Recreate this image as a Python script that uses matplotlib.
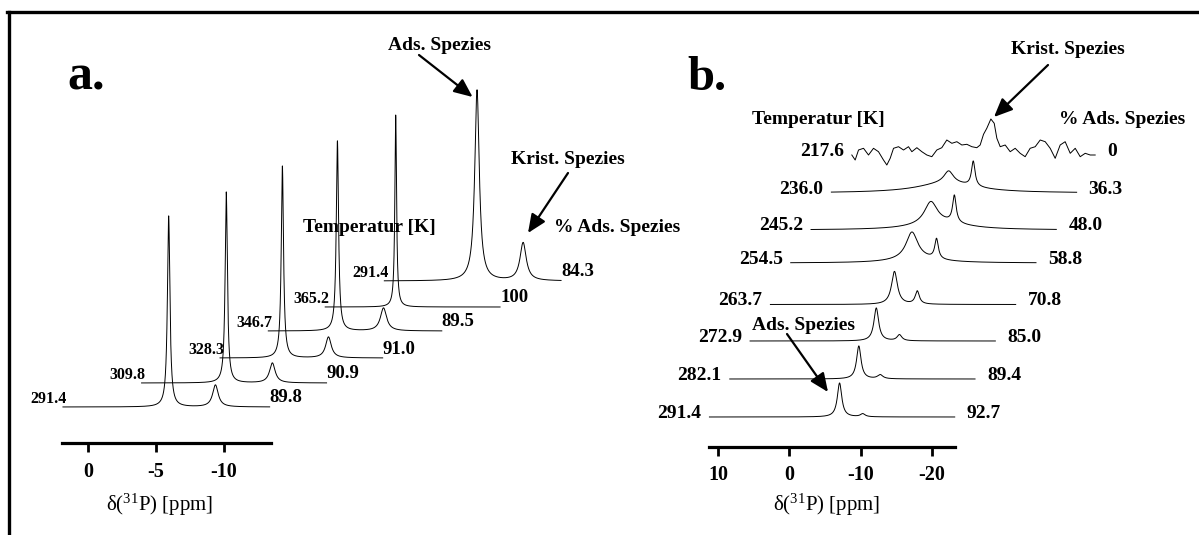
import numpy as np
import matplotlib
matplotlib.use("Agg")
import matplotlib.pyplot as plt

plt.rcParams['font.family'] = ['Liberation Serif', 'DejaVu Serif']
plt.rcParams['mathtext.fontset'] = 'custom'
plt.rcParams['mathtext.rm'] = 'Liberation Serif'
plt.rcParams['mathtext.it'] = 'Liberation Serif:italic'

W, H = 1199, 535

# ---------------- panel a: heating series ----------------
a_temps = ['291.4', '309.8', '328.3', '346.7', '365.2', '291.4']
a_percent = ['89.8', '90.9', '91.0', '89.5', '100', '84.3']
a_ads_shift = [-5.95, -6.0, -6.0, -6.0, -6.0, -6.0]
a_ads_height = [191, 191, 192, 190, 192, 191]
a_ads_width = [0.22, 0.20, 0.20, 0.20, 0.15, 0.40]
a_krist_shift = [-9.4, -9.4, -9.4, -9.4, -9.4, -9.4]
a_krist_height = [22, 20, 21, 23, 0, 38]
a_krist_width = [0.50, 0.50, 0.50, 0.55, 0.50, 0.55]
a_range_left = [1.85, 0.25, -1.4, -0.9, -0.8, 0.84]
a_range_right = [-13.4, -13.4, -13.4, -13.7, -13.7, -12.2]
a_ticks = [0, -5, -10]

# ---------------- panel b: cooling series ----------------
b_temps = ['291.4', '282.1', '272.9', '263.7', '254.5', '245.2', '236.0', '217.6']
b_percent = ['92.7', '89.4', '85.0', '70.8', '58.8', '48.0', '36.3', '0']
b_ads_shift = [-7.05, -6.9, -6.5, -6.2, -5.8, -5.6, -5.25]
b_ads_height = [34, 33, 33, 33, 27, 22, 12]
b_ads_width = [0.75, 0.75, 0.8, 1.0, 2.0, 2.2, 1.6]
b_krist_shift = [-10.3, -9.9, -9.75, -9.4, -9.25, -8.9, -8.7]
b_krist_height = [3, 4, 6, 13, 20, 27, 25]
b_krist_width = [0.8, 0.9, 0.8, 0.7, 0.6, 0.6, 0.6]
b_broad_shift = [0, 0, 0, 0, -6.5, -7.0, -5.0]
b_broad_height = [0, 0, 0, 0, 4, 7, 10]
b_broad_width = [8, 8, 8, 8, 8, 9, 10]
# lowest-temperature trace (217.6 K), read point by point
b_last_shift = [11.13, 10.66, 10.19, 9.49, 8.79, 8.09, 7.39, 6.69, 6.22, 5.75,
                5.28, 4.58, 3.88, 3.18, 2.71, 2.01, 1.31, 0.61, -0.09, -0.79,
                -1.49, -2.19, -2.9, -3.6, -4.3, -5.0, -5.7, -6.4, -6.87, -7.34,
                -7.8, -8.37, -8.84, -9.21, -9.68, -10.38, -11.08, -11.78, -12.48,
                -13.18, -13.88, -14.59, -15.29, -15.99, -16.69, -17.39, -18.09,
                -18.79, -19.5, -20.2, -20.9, -21.6, -22.3, -23.0]
b_last_height = [0, -5, 5, 6.7, 0, 6.7, 3.3, -5, -10, -3.3,
                 6.7, 8.3, 5, 8.3, 3.3, 7.3, 3.3, 0, -1.7, 5,
                 7.3, 15, 11.7, 13.3, 10, 10.7, 8.3, 7.3, 10, 20.7,
                 26.7, 36, 31.7, 16.7, 8.3, 10, 3.3, 6.7, 1.7,
                 -1.7, 6.7, 8.3, 15, 13.3, 6.7, -3.3, 10,
                 13.3, 1.7, 6.7, -1.7, 1.7, 0, 0]
b_range = (11.2, -23.2)
b_ticks = [10, 0, -10, -20]

# stacking layout (shift to the right in ppm, lift in pixels)
a_dx = [0, 4.2, 8.34, 12.4, 16.7, 22.7]
a_base = [36, 60, 85, 112, 136, 162]
b_dx = [0, 2.85, 5.7, 8.55, 11.4, 14.25, 17.1, 19.9]
b_base = [29.5, 67.5, 105.5, 142, 183.5, 216.5, 253.5, 291.5]


def lorentz(x, x0, h, w):
    return h / (1.0 + ((x - x0) / (w / 2.0)) ** 2)


def fxy(x, y):
    """top-left pixel position -> figure fraction"""
    return (x / W, 1 - y / H)


fig = plt.figure(figsize=(W / 100, H / 100), dpi=100)

# outer frame (top and left edges only)
fig.add_artist(plt.Line2D([7 / W, 1.0], [1 - 12.3 / H] * 2, color='black', lw=2.4,
                          transform=fig.transFigure))
fig.add_artist(plt.Line2D([8.7 / W] * 2, [1 - 12.3 / H, 0.0], color='black', lw=2.4,
                          transform=fig.transFigure))


def style_axis(ax, ticks):
    for s in ('left', 'right', 'top'):
        ax.spines[s].set_visible(False)
    ax.spines['bottom'].set_linewidth(2.3)
    ax.set_yticks([])
    ax.set_xticks(ticks)
    ax.set_xticklabels([str(t) for t in ticks], fontsize=14.5, fontweight='bold')
    ax.tick_params(axis='x', direction='out', length=6.5, width=2.0, pad=7)
    ax.patch.set_visible(False)


# ---------------- panel a ----------------
ax_a = fig.add_axes([62.4 / W, (H - 443) / H, (271 - 62.4) / W, (443 - 40) / H])
ax_a.set_xlim(1.89, -13.5)
ax_a.set_ylim(0, 403)
style_axis(ax_a, a_ticks)

for i in range(len(a_temps)):
    x = np.linspace(a_range_left[i], a_range_right[i], 3000)
    y = lorentz(x, a_ads_shift[i], a_ads_height[i], a_ads_width[i])
    y += lorentz(x, a_krist_shift[i], a_krist_height[i], a_krist_width[i])
    xs = x - a_dx[i]
    ax_a.plot(xs, a_base[i] + y, color='black', lw=0.7, clip_on=False, zorder=3 + (6 - i))
    ax_a.annotate(a_temps[i], xy=(xs[0], a_base[i]), xytext=(4, 8),
                  textcoords='offset pixels', ha='right', va='center',
                  fontsize=11.5, fontweight='bold', annotation_clip=False)
    ax_a.annotate(a_percent[i], xy=(xs[-1], a_base[i]), xytext=(0, 9),
                  textcoords='offset pixels', ha='left', va='center',
                  fontsize=13.5, fontweight='bold', annotation_clip=False)

fig.text(*fxy(67, 90), 'a.', fontsize=36, fontweight='bold', ha='left', va='baseline')
fig.text(*fxy(369, 228), 'Temperatur [K]', fontsize=14, fontweight='bold',
         ha='center', va='center', zorder=1)
fig.text(*fxy(617, 228), '% Ads. Spezies', fontsize=14, fontweight='bold',
         ha='center', va='center')
fig.text(*fxy(568, 160), 'Krist. Spezies', fontsize=14, fontweight='bold',
         ha='center', va='center')
fig.text(*fxy(440, 45), 'Ads. Spezies', fontsize=14, fontweight='bold',
         ha='center', va='center')
fig.text(*fxy(160, 505), r'δ($^{31}$P) [ppm]', fontsize=15, ha='center', va='center')

arrow = dict(arrowstyle='-|>,head_length=0.8,head_width=0.35', color='black', lw=1.6,
             mutation_scale=14, shrinkA=0, shrinkB=0)
ax_a.annotate('', xy=fxy(472.6, 97), xytext=fxy(419, 55), xycoords='figure fraction',
              textcoords='figure fraction', arrowprops=arrow, annotation_clip=False)
ax_a.annotate('', xy=fxy(528, 233), xytext=fxy(568, 173), xycoords='figure fraction',
              textcoords='figure fraction', arrowprops=arrow, annotation_clip=False)

# ---------------- panel b ----------------
ax_b = fig.add_axes([709 / W, (H - 446.5) / H, (955 - 709) / W, (446.5 - 40) / H])
ax_b.set_xlim(11.26, -23.24)
ax_b.set_ylim(0, 406.5)
style_axis(ax_b, b_ticks)

for i in range(len(b_temps)):
    if i < len(b_ads_shift):
        x = np.linspace(b_range[0], b_range[1], 3000)
        y = lorentz(x, b_ads_shift[i], b_ads_height[i], b_ads_width[i])
        y += lorentz(x, b_krist_shift[i], b_krist_height[i], b_krist_width[i])
        y += lorentz(x, b_broad_shift[i], b_broad_height[i], b_broad_width[i])
    else:
        x = np.array(b_last_shift)
        y = np.array(b_last_height)
    xs = x - b_dx[i]
    ax_b.plot(xs, b_base[i] + y, color='black', lw=0.7, clip_on=False, zorder=3 + (8 - i))
    ax_b.annotate(b_temps[i], xy=(xs[0], b_base[i]), xytext=(-8, 4),
                  textcoords='offset pixels', ha='right', va='center',
                  fontsize=14, fontweight='bold', annotation_clip=False)
    ax_b.annotate(b_percent[i], xy=(xs[-1], b_base[i]), xytext=(12, 4),
                  textcoords='offset pixels', ha='left', va='center',
                  fontsize=14, fontweight='bold', annotation_clip=False)

fig.text(*fxy(687, 90), 'b.', fontsize=35, fontweight='bold', ha='left', va='baseline')
fig.text(*fxy(818, 120), 'Temperatur [K]', fontsize=14, fontweight='bold',
         ha='center', va='center')
fig.text(*fxy(1122, 120), '% Ads. Spezies', fontsize=14, fontweight='bold',
         ha='center', va='center')
fig.text(*fxy(1068, 50), 'Krist. Spezies', fontsize=14, fontweight='bold',
         ha='center', va='center')
fig.text(*fxy(804, 325), 'Ads. Spezies', fontsize=14, fontweight='bold',
         ha='center', va='center')
fig.text(*fxy(827, 505), r'δ($^{31}$P) [ppm]', fontsize=15, ha='center', va='center')

ax_b.annotate('', xy=fxy(994, 117), xytext=fxy(1048, 65), xycoords='figure fraction',
              textcoords='figure fraction', arrowprops=arrow, annotation_clip=False)
ax_b.annotate('', xy=fxy(828, 392), xytext=fxy(787, 334), xycoords='figure fraction',
              textcoords='figure fraction', arrowprops=arrow, annotation_clip=False)

fig.savefig('out.png', dpi=100, facecolor='white')
